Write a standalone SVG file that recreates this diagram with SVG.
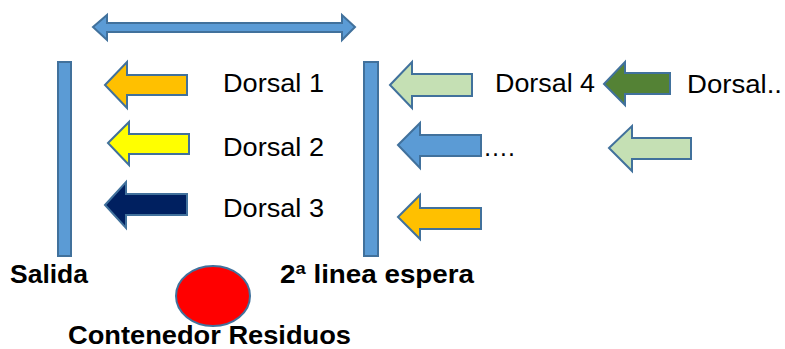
<svg xmlns="http://www.w3.org/2000/svg" width="785" height="349" viewBox="0 0 785 349">
<style>
.sh{stroke:#41719C;stroke-width:2;stroke-linejoin:miter}
.blue{fill:#5B9BD5}
.t{font-family:"Liberation Sans",Arial,sans-serif;font-size:25px;fill:#000}
.b{font-family:"Liberation Sans",Arial,sans-serif;font-size:25px;font-weight:bold;fill:#000}
</style>
<rect width="785" height="349" fill="#fff"/>
<g id="bars">
<g id="salida-bar"><rect class="sh blue" x="58" y="62" width="13" height="194"/></g>
<g id="linea2-bar"><rect class="sh blue" x="364" y="62" width="14" height="194"/></g>
</g>
<g id="connectors">
<path id="double-arrow" class="sh blue" d="M93,27 L107,15 L107,23 L342,23 L342,15 L355,27 L342,40 L342,32 L107,32 L107,40 Z"/>
<path id="a-orange1" class="sh" fill="#FFC000" d="M105,85 L127,62 L127,75 L187,75 L187,95 L127,95 L127,108 Z"/>
<path id="a-yellow" class="sh" fill="#FFFF00" d="M108,143 L129,122 L129,134 L189,134 L189,154 L129,154 L129,165 Z"/>
<path id="a-navy" class="sh" fill="#002060" d="M105,205 L126,182 L126,194 L187,194 L187,215 L126,215 L126,228 Z"/>
<path id="a-lgreen1" class="sh" fill="#C5E0B4" d="M390,85 L412,62 L412,74 L472,74 L472,96 L412,96 L412,108 Z"/>
<path id="a-blue" class="sh blue" d="M398,145 L420,123 L420,135 L481,135 L481,156 L420,156 L420,168 Z"/>
<path id="a-orange2" class="sh" fill="#FFC000" d="M398,217 L420,195 L420,208 L481,208 L481,229 L420,229 L420,239 Z"/>
<path id="a-dgreen" class="sh" fill="#548235" d="M604,84 L625,62 L625,73 L670,73 L670,94 L625,94 L625,105 Z"/>
<path id="a-lgreen2" class="sh" fill="#C5E0B4" d="M609,148 L632,126 L632,138 L691,138 L691,159 L632,159 L632,171 Z"/>
</g>
<g id="contenedor"><ellipse class="sh" fill="#FF0000" cx="213" cy="296" rx="37" ry="30"/></g>
<g id="labels">
<text class="t" x="223" y="92" textLength="101" lengthAdjust="spacingAndGlyphs">Dorsal 1</text>
<text class="t" x="223" y="156" textLength="101" lengthAdjust="spacingAndGlyphs">Dorsal 2</text>
<text class="t" x="223" y="217" textLength="101" lengthAdjust="spacingAndGlyphs">Dorsal 3</text>
<text class="t" x="495" y="92" textLength="100" lengthAdjust="spacingAndGlyphs">Dorsal 4</text>
<text class="t" x="687" y="93" textLength="95" lengthAdjust="spacingAndGlyphs">Dorsal..</text>
<text class="t" x="483" y="156">….</text>
<text class="b" x="10" y="283" textLength="78" lengthAdjust="spacingAndGlyphs">Salida</text>
<text class="b" x="280" y="283" textLength="194" lengthAdjust="spacingAndGlyphs">2ª linea espera</text>
<text class="b" x="68" y="344" textLength="283" lengthAdjust="spacingAndGlyphs">Contenedor Residuos</text>
</g>
</svg>
